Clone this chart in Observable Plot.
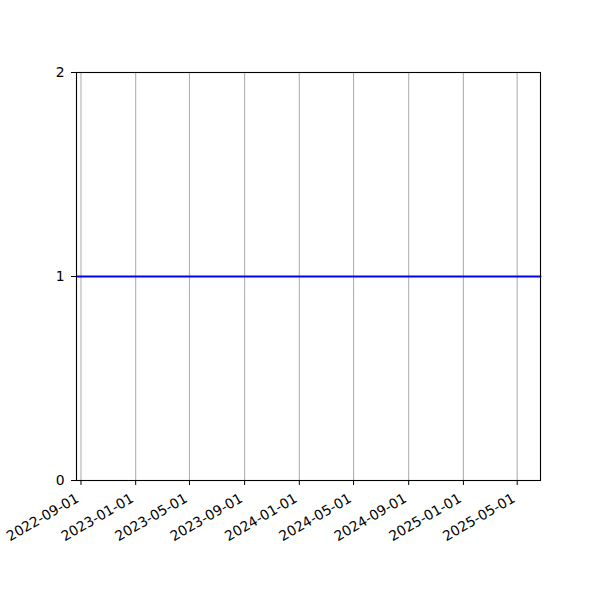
<!DOCTYPE html>
<html>
<head>
<meta charset="utf-8">
<script src="https://cdn.jsdelivr.net/npm/d3@7"></script>
<script src="https://cdn.jsdelivr.net/npm/@observablehq/plot@0.6"></script>
<style>
  html, body { margin: 0; padding: 0; background: #fff; }
  #chart svg { display: block; }
</style>
</head>
<body>
<div id="chart"></div>
<script>
const xDomain = ["2022-08-22", "2025-06-22"];
const xTicks = ["2022-09-01", "2023-01-01", "2023-05-01", "2023-09-01", "2024-01-01", "2024-05-01", "2024-09-01", "2025-01-01", "2025-05-01"];
const yTicks = [0, 1, 2];
const lineDates = ["2022-08-22", "2025-06-22"];
const lineValues = [1, 1];

const parse = d3.utcParse("%Y-%m-%d");
const data = lineDates.map((d, i) => ({date: parse(d), value: lineValues[i]}));
const tickDates = xTicks.map(parse);

const chart = Plot.plot({
  width: 600,
  height: 600,
  marginLeft: 76,
  marginRight: 60,
  marginTop: 72,
  marginBottom: 120,
  style: {fontFamily: "DejaVu Sans", fontSize: "13.9px", color: "#000", background: "#fff"},
  x: {type: "utc", domain: xDomain.map(parse)},
  y: {domain: [0, 2]},
  marks: [
    Plot.gridX(tickDates, {stroke: "#b0b0b0", strokeOpacity: 1, strokeWidth: 1.1}),
    Plot.line(data, {x: "date", y: "value", stroke: "#0000ff", strokeWidth: 2}),
    Plot.frame({stroke: "#000", strokeWidth: 1.1}),
    Plot.axisX(tickDates, {
      tickFormat: () => "",
      tickSize: 5,
      label: null,
      stroke: "#000"
    }),
    Plot.text(tickDates, {
      x: d => d,
      frameAnchor: "bottom",
      dx: -6,
      dy: 12,
      rotate: -30,
      textAnchor: "end",
      lineAnchor: "top",
      text: d3.utcFormat("%Y-%m-%d"),
      fill: "#000",
      fontSize: 13.9
    }),
    Plot.axisY(yTicks, {
      tickSize: 5,
      tickPadding: 7,
      label: null,
      tickFormat: d => String(d),
      stroke: "#000",
      fill: "#000"
    })
  ]
});
document.getElementById("chart").appendChild(chart);
</script>
</body>
</html>
